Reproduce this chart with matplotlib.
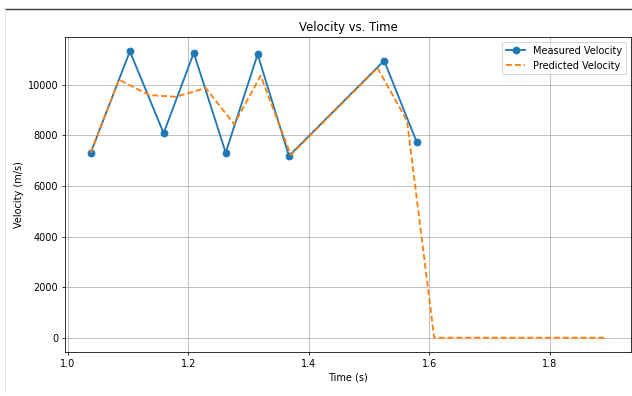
import matplotlib
matplotlib.use("Agg")
from matplotlib import pyplot as plt
from matplotlib.lines import Line2D

# measured velocity samples
t_measured = [1.038, 1.103, 1.159, 1.209, 1.262, 1.315, 1.367, 1.525, 1.579]
v_measured = [7313, 11321, 8083, 11258, 7313, 11202, 7183, 10952, 7738]

# predicted velocity
t_predicted = [1.038, 1.085, 1.135, 1.179, 1.229, 1.276, 1.320, 1.370,
               1.514, 1.563, 1.608, 1.892]
v_predicted = [7313, 10198, 9591, 9524, 9868, 8440, 10357, 7222,
               10663, 8571, 0, 0]

fig = plt.figure(figsize=(632 / 70, 396 / 70), dpi=70)
ax = fig.add_axes([65 / 632, 1 - 352 / 396, 566 / 632, 315 / 396])

ax.plot(t_measured, v_measured, marker='o', lw=1.9, markersize=7,
        label='Measured Velocity')
ax.plot(t_predicted, v_predicted, linestyle='--', lw=1.9, dashes=(3.2, 1.6),
        label='Predicted Velocity')

ax.set_title('Velocity vs. Time')
ax.set_xlabel('Time (s)')
ax.set_ylabel('Velocity (m/s)')
ax.grid(True)
ax.legend(loc='upper right')

# screenshot frame
fig.add_artist(Line2D([5 / 632, 1], [1 - 9 / 396, 1 - 9 / 396], color='#444444', lw=1.5))
fig.add_artist(Line2D([5 / 632, 5 / 632], [0.01, 1 - 9 / 396], color='#e6e6e6', lw=1))

fig.savefig('out.png', dpi=70)
